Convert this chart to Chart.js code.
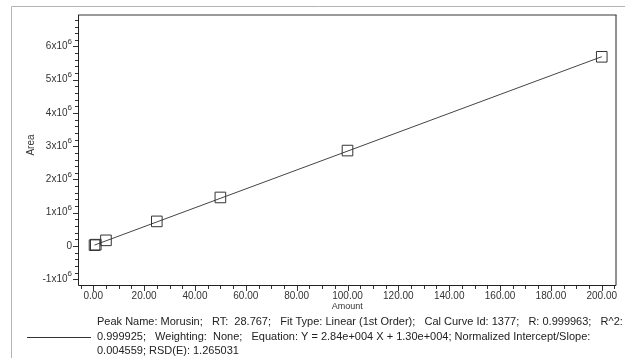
<!DOCTYPE html>
<html>
<head>
<meta charset="utf-8">
<script src="https://cdn.jsdelivr.net/npm/chart.js@4/dist/chart.umd.min.js"></script>
<style>
  html, body { margin: 0; padding: 0; background: #fff; }
  canvas { display: block; }
</style>
</head>
<body>
<canvas id="cal" width="625" height="358"></canvas>
<script>
// Calibration standards: amount injected vs. peak area
const amounts = [0.5, 1, 5, 25, 50, 100, 200];
const areas = [2.5e4, 4.0e4, 1.7e5, 7.4e5, 1.46e6, 2.87e6, 5.69e6];

// Linear (1st order) fit from the report
const fitSlope = 2.84e4;
const fitIntercept = 1.30e4;
const fitRange = [0.5, 200];

// Axis ticks
const yMajorTicks = [-1e6, 0, 1e6, 2e6, 3e6, 4e6, 5e6, 6e6];
const yTickBase = ['-1x10', '0', '1x10', '2x10', '3x10', '4x10', '5x10', '6x10'];
const yTickExp = ['6', '', '6', '6', '6', '6', '6', '6'];
const yMinorStep = 2e5;
const xMajorStep = 20;
const xMinorStep = 5;

const captionLines = [
  'Peak Name: Morusin;   RT:  28.767;   Fit Type: Linear (1st Order);   Cal Curve Id: 1377;   R: 0.999963;   R^2:',
  '0.999925;   Weighting:  None;   Equation: Y = 2.84e+004 X + 1.30e+004; Normalized Intercept/Slope:',
  '0.004559; RSD(E): 1.265031'
];

const FONT = '"Liberation Sans", Arial, sans-serif';

const framePlugin = {
  id: 'calFrame',
  beforeDatasetsDraw(chart) {
    const { ctx, chartArea: a, scales } = chart;
    const xs = scales.x, ys = scales.y;
    ctx.save();
    // outer report frame
    ctx.strokeStyle = '#b4b4b4';
    ctx.lineWidth = 1;
    ctx.beginPath();
    ctx.moveTo(11.5, 358);
    ctx.lineTo(11.5, 6.5);
    ctx.lineTo(625, 6.5);
    ctx.stroke();

    // plot box
    ctx.strokeStyle = '#9a9a9a';
    ctx.lineWidth = 2;
    ctx.beginPath();
    ctx.moveTo(a.left, a.top);
    ctx.lineTo(a.right, a.top);
    ctx.stroke();
    ctx.strokeStyle = '#222';
    ctx.lineWidth = 1;
    ctx.beginPath();
    ctx.moveTo(a.left + 0.5, a.top);
    ctx.lineTo(a.left + 0.5, a.bottom + 0.5);
    ctx.lineTo(a.right - 0.5, a.bottom + 0.5);
    ctx.lineTo(a.right - 0.5, a.top);
    ctx.stroke();

    // y ticks (major + minor), pointing outward
    ctx.strokeStyle = '#333';
    ctx.beginPath();
    for (let v = Math.ceil(ys.min / yMinorStep) * yMinorStep; v <= ys.max; v += yMinorStep) {
      const y = Math.round(ys.getPixelForValue(v)) + 0.5;
      const major = Math.abs(v / 1e6 - Math.round(v / 1e6)) < 1e-6;
      ctx.moveTo(a.left, y);
      ctx.lineTo(a.left - (major ? 5 : 3), y);
    }
    // x ticks
    for (let v = Math.ceil(xs.min / xMinorStep) * xMinorStep; v <= xs.max; v += xMinorStep) {
      const x = Math.round(xs.getPixelForValue(v)) + 0.5;
      const major = v % xMajorStep === 0;
      ctx.moveTo(x, a.bottom + 1);
      ctx.lineTo(x, a.bottom + 1 + (major ? 5 : 3));
    }
    ctx.stroke();
    ctx.restore();
  },
  afterDraw(chart) {
    const { ctx, chartArea: a, scales } = chart;
    const ys = scales.y;
    ctx.save();
    ctx.fillStyle = '#333';
    // y tick labels with superscript exponent
    yMajorTicks.forEach((v, i) => {
      const y = ys.getPixelForValue(v);
      const right = a.left - 6;
      ctx.font = '8px ' + FONT;
      const expW = yTickExp[i] ? ctx.measureText(yTickExp[i]).width : 0;
      ctx.textAlign = 'right';
      ctx.textBaseline = 'middle';
      if (yTickExp[i]) ctx.fillText(yTickExp[i], right, y - 5);
      ctx.font = '10px ' + FONT;
      ctx.fillText(yTickBase[i], right - expW, y);
    });

    // axis titles
    ctx.font = '9px ' + FONT;
    ctx.textAlign = 'center';
    ctx.textBaseline = 'middle';
    ctx.fillText('Amount', (a.left + a.right) / 2, 307);
    ctx.save();
    ctx.translate(31, 145);
    ctx.rotate(-Math.PI / 2);
    ctx.font = '10px ' + FONT;
    ctx.fillText('Area', 0, 0);
    ctx.restore();

    // curve legend / fit report
    ctx.fillStyle = '#222';
    ctx.font = '11px ' + FONT;
    ctx.textAlign = 'left';
    ctx.textBaseline = 'middle';
    captionLines.forEach((t, i) => ctx.fillText(t, 97, 322 + i * 14.5));
    ctx.strokeStyle = '#333';
    ctx.lineWidth = 1;
    ctx.beginPath();
    ctx.moveTo(27, 337.5);
    ctx.lineTo(91, 337.5);
    ctx.stroke();
    ctx.restore();
  }
};

new Chart(document.getElementById('cal'), {
  type: 'scatter',
  data: {
    datasets: [
      {
        label: 'Standards',
        data: amounts.map((x, i) => ({ x: x, y: areas[i] })),
        pointStyle: 'rect',
        pointRadius: 7.5,
        pointBorderColor: '#333',
        pointBackgroundColor: 'rgba(0,0,0,0)',
        pointBorderWidth: 1,
        showLine: false
      },
      {
        label: 'Fit',
        data: fitRange.map(x => ({ x: x, y: fitSlope * x + fitIntercept })),
        showLine: true,
        borderColor: '#444',
        borderWidth: 1,
        pointRadius: 0
      }
    ]
  },
  options: {
    responsive: false,
    animation: false,
    devicePixelRatio: 1,
    layout: { padding: { left: 0, right: 7, top: 15, bottom: 0 } },
    plugins: { legend: { display: false }, tooltip: { enabled: false } },
    scales: {
      x: {
        type: 'linear',
        min: -6,
        max: 205.8,
        grid: { display: false, drawTicks: false },
        border: { display: false },
        ticks: {
          stepSize: xMinorStep,
          autoSkip: false,
          maxRotation: 0,
          padding: 5,
          color: '#333',
          font: { family: FONT, size: 10 },
          callback: v => (v >= 0 && v % xMajorStep === 0) ? v.toFixed(2) : ''
        },
        afterFit: s => { s.height = 73; }
      },
      y: {
        type: 'linear',
        min: -1.173e6,
        max: 6.947e6,
        grid: { display: false, drawTicks: false },
        border: { display: false },
        ticks: { display: false },
        afterFit: s => { s.width = 78; }
      }
    }
  },
  plugins: [framePlugin]
});
</script>
</body>
</html>
